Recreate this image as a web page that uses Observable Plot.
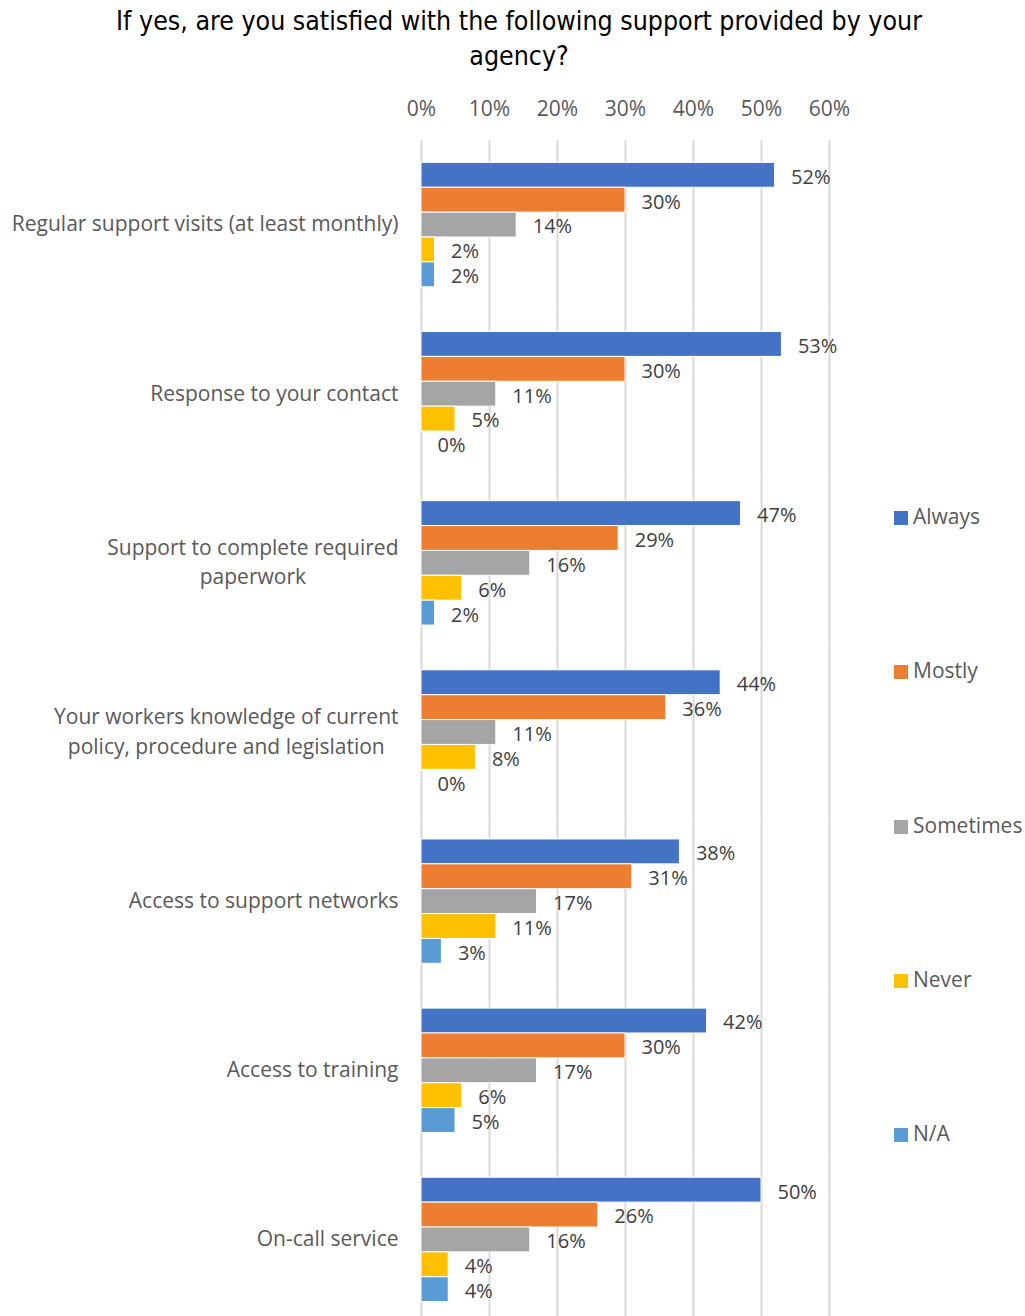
<!DOCTYPE html>
<html>
<head>
<meta charset="utf-8">
<script src="https://cdn.jsdelivr.net/npm/d3@7"></script>
<script src="https://cdn.jsdelivr.net/npm/@observablehq/plot@0.6"></script>
<style>
  html, body { margin: 0; padding: 0; background: #fff; }
  #wrap { position: relative; width: 1025px; height: 1316px; overflow: hidden; font-family: "Open Sans", sans-serif; }
  #title { position: absolute; left: 0; top: 3px; width: 1038px; text-align: center; font-family: "Liberation Sans Narrow", "DejaVu Sans Condensed", sans-serif; font-size: 26.5px; line-height: 35px; color: #000; }
  #chart { position: absolute; left: 0; top: 0; }
  .leg { position: absolute; left: 894px; font-size: 21px; color: #595959; line-height: 24px; white-space: nowrap; }
  .leg span.sw { display: inline-block; width: 14px; height: 14px; margin-right: 5px; vertical-align: -1px; }
</style>
</head>
<body>
<div id="wrap">
  <div id="chart"></div>
  <div id="title">If yes, are you satisfied with the following support provided by your<br>agency?</div>
  <div id="legend"></div>
</div>
<script>
const categories = [
  "Regular support visits (at least monthly)",
  "Response to your contact",
  "Support to complete required\npaperwork",
  "Your workers knowledge of current\npolicy, procedure and legislation",
  "Access to support networks",
  "Access to training",
  "On-call service"
];
const series = ["Always", "Mostly", "Sometimes", "Never", "N/A"];
const seriesColors = ["#4472C4", "#ED7D31", "#A5A5A5", "#FFC000", "#5B9BD5"];
const always    = [52, 53, 47, 44, 38, 42, 50];
const mostly    = [30, 30, 29, 36, 31, 30, 26];
const sometimes = [14, 11, 16, 11, 17, 17, 16];
const never     = [2, 5, 6, 8, 11, 6, 4];
const na        = [2, 0, 2, 0, 3, 5, 4];
const xTicks = [0, 10, 20, 30, 40, 50, 60];

const seriesValues = [always, mostly, sometimes, never, na];
const data = [];
categories.forEach((c, i) => {
  series.forEach((s, j) => data.push({category: c, series: s, value: seriesValues[j][i]}));
});

const ctx = document.createElement("canvas").getContext("2d");
ctx.font = "21px 'Open Sans'";
const labelPad = 23;
const labelMarks = categories.map(c => {
  const w = Math.max(...c.split("\n").map(l => ctx.measureText(l).width));
  return Plot.text([c], {
    fy: d => d, text: d => d, frameAnchor: "left", textAnchor: "middle",
    dx: -(labelPad + w / 2), dy: -3, lineHeight: 1.4, fill: "#595959"
  });
});

const chart = Plot.plot({
  width: 1025,
  height: 1316,
  marginLeft: 421,
  marginRight: 196,
  marginTop: 140,
  marginBottom: -8,
  style: {fontFamily: "'Open Sans', sans-serif", fontSize: "21px", color: "#595959", background: "transparent"},
  x: {domain: [0, 60]},
  fy: {domain: categories, paddingInner: 0, paddingOuter: 0, round: false, axis: null},
  y: {domain: series, paddingInner: 0, paddingOuter: 0.9, round: false, axis: null},
  color: {domain: series, range: seriesColors},
  marks: [
    Plot.gridX(xTicks, {stroke: "#D9D9D9", strokeOpacity: 1, strokeWidth: 2}),
    Plot.axisX(xTicks, {anchor: "top", tickSize: 0, tickPadding: 25, tickFormat: d => d + "%", label: null, fill: "#595959"}),
    Plot.barX(data, {x: "value", y: "series", fy: "category", fill: "series", stroke: "white", strokeWidth: 1}),
    Plot.text(data, {x: "value", y: "series", fy: "category", text: d => d.value + "%", textAnchor: "start", dx: 16, dy: 2, fontSize: 20, fill: "#404040"}),
    ...labelMarks
  ]
});
document.getElementById("chart").appendChild(chart);

const legendTops = [516, 670, 825, 979, 1133];
const legend = document.getElementById("legend");
series.forEach((s, i) => {
  const el = document.createElement("div");
  el.className = "leg";
  el.style.top = (legendTops[i] - 12) + "px";
  el.innerHTML = `<span class="sw" style="background:${seriesColors[i]}"></span>${s}`;
  legend.appendChild(el);
});
</script>
</body>
</html>
